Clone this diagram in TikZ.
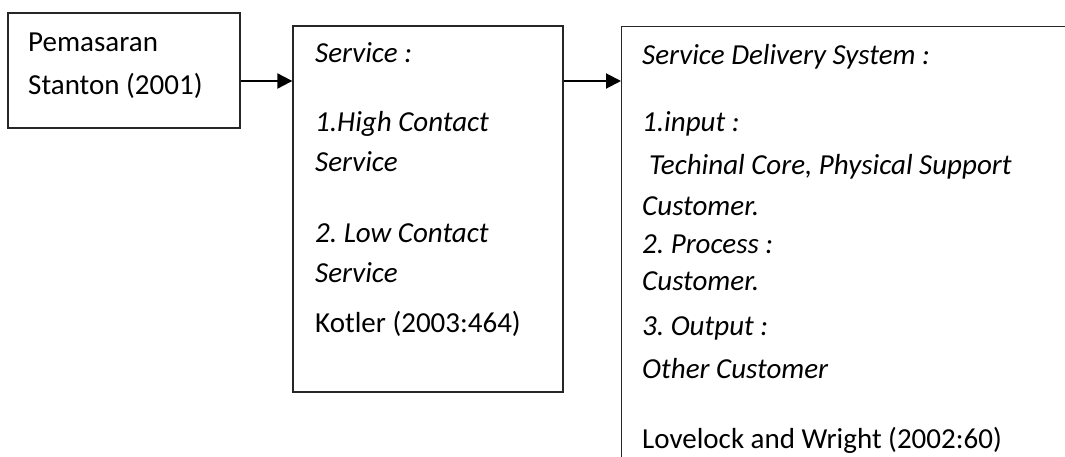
\documentclass[tikz,border=0pt]{standalone}
\usepackage{fontspec}
\setmainfont{Carlito}
\usetikzlibrary{arrows.meta}
\frenchspacing
\begin{document}
\begin{tikzpicture}[x=1pt,y=1pt,
  boxstyle/.style={draw=black!85,line width=1.3pt,inner sep=0pt},
  txt/.style={anchor=base west,inner sep=0pt,font=\fontsize{29}{35}\selectfont},
  itxt/.style={txt,font=\fontsize{29}{35}\selectfont\itshape},
  arr/.style={line width=2pt,-{Triangle[length=15pt,width=15pt]}}]
\useasboundingbox (0,0) rectangle (1065,-457);
\clip (0,0) rectangle (1065,-457);
\node[boxstyle,minimum width=232pt,minimum height=115pt] (box1) at (124,-70.5) {};
\node[boxstyle,minimum width=270pt,minimum height=366pt] (box2) at (428,-209) {};
\node[boxstyle,minimum width=520pt,minimum height=540pt,anchor=north west] (box3) at (621,-26) {};
\coordinate (ay) at (0,-81);
\draw[arr] (box1.east |- ay) -- (box2.west |- ay);
\draw[arr] (box2.east |- ay) -- (box3.west |- ay);
% box 1
\node[txt] (t11) at (28,-52) {Pemasaran};
\node[txt] (t12) at (28,-95) {Stanton (2001)};
% box 2
\node[itxt] (t21) at (315,-63) {Service :};
\node[itxt] (t22) at (315,-132) {1.High Contact};
\node[itxt] (t23) at (315,-172) {Service};
\node[itxt] (t24) at (315,-242) {2. Low Contact};
\node[itxt] (t25) at (315,-282) {Service};
\node[txt] (t26) at (315,-332) {Kotler (2003:464)};
% box 3
\node[itxt] (t31) at (642,-65) {Service Delivery System :};
\node[itxt] (t32) at (642,-132) {1.input :};
\node[itxt] (t33) at (649,-175) {Techinal Core, Physical Support};
\node[itxt] (t34) at (642,-215) {Customer.};
\node[itxt] (t35) at (642,-253) {2. Process :};
\node[itxt] (t36) at (642,-290) {Customer.};
\node[itxt] (t37) at (642,-335) {3. Output :};
\node[itxt] (t38) at (642,-378) {Other Customer};
\node[txt] (t39) at (642,-448) {Lovelock and Wright (2002:60)};
\end{tikzpicture}
\end{document}
